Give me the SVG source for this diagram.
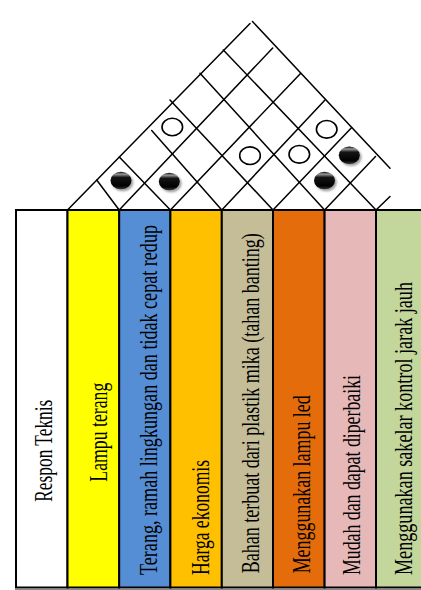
<svg xmlns="http://www.w3.org/2000/svg" width="421" height="590" viewBox="0 0 421 590">
<style>
.col{stroke:#000;stroke-width:2}
.lbl{font-family:"Liberation Serif","Times New Roman",serif;font-size:24.5px;fill:#000}
.rl{stroke:#000;stroke-width:1.5;fill:none;stroke-linecap:round}
.hol{fill:#fff;stroke:#000;stroke-width:1.6}
.blk{fill:url(#gloss)}
.shd{fill:#777;opacity:0.7;filter:url(#blur)}
</style>
<defs>
<linearGradient id="gloss" x1="0" y1="0" x2="0" y2="1">
<stop offset="0" stop-color="#000"/>
<stop offset="0.14" stop-color="#9a9a9a"/>
<stop offset="0.32" stop-color="#151515"/>
<stop offset="0.8" stop-color="#000"/>
<stop offset="1" stop-color="#3a3a3a"/>
</linearGradient>
<filter id="blur" x="-50%" y="-50%" width="200%" height="200%"><feGaussianBlur stdDeviation="1.2"/></filter>
</defs>
<rect width="421" height="590" fill="#fff"/>

<g id="columns">
<g id="col-respon"><rect class="col" x="16" y="210" width="51.5" height="377.5" fill="#fff"/><text class="lbl" transform="translate(52,501.7) rotate(-90)" textLength="102" lengthAdjust="spacingAndGlyphs">Respon Teknis</text></g>
<g id="col-lampu"><rect class="col" x="67.5" y="210" width="51.7" height="377.5" fill="#ffff00"/><text class="lbl" transform="translate(106.8,481.7) rotate(-90)" textLength="99" lengthAdjust="spacingAndGlyphs">Lampu terang</text></g>
<g id="col-terang"><rect class="col" x="119.2" y="210" width="51.2" height="377.5" fill="#558ed5"/><text class="lbl" transform="translate(157,575) rotate(-90)" textLength="350" lengthAdjust="spacingAndGlyphs">Terang, ramah lingkungan dan tidak cepat redup</text></g>
<g id="col-harga"><rect class="col" x="170.4" y="210" width="51.4" height="377.5" fill="#ffc000"/><text class="lbl" transform="translate(209.3,575) rotate(-90)" textLength="115" lengthAdjust="spacingAndGlyphs">Harga ekonomis</text></g>
<g id="col-bahan"><rect class="col" x="221.8" y="210" width="51.2" height="377.5" fill="#c4bd97"/><text class="lbl" transform="translate(258.6,573.3) rotate(-90)" textLength="340" lengthAdjust="spacingAndGlyphs">Bahan terbuat dari plastik mika (tahan banting)</text></g>
<g id="col-led"><rect class="col" x="273" y="210" width="51.6" height="377.5" fill="#e46c0a"/><text class="lbl" transform="translate(309.6,573.3) rotate(-90)" textLength="178" lengthAdjust="spacingAndGlyphs">Menggunakan lampu led</text></g>
<g id="col-mudah"><rect class="col" x="324.6" y="210" width="51.4" height="377.5" fill="#e6b9b8"/><text class="lbl" transform="translate(360.3,575) rotate(-90)" textLength="200" lengthAdjust="spacingAndGlyphs">Mudah dan dapat diperbaiki</text></g>
<g id="col-sakelar"><rect class="col" x="376" y="210" width="60" height="377.5" fill="#c3d69b"/><text class="lbl" transform="translate(412,575) rotate(-90)" textLength="293" lengthAdjust="spacingAndGlyphs">Menggunakan sakelar kontrol jarak jauh</text></g>
<line x1="15" y1="589.5" x2="421" y2="589.5" stroke="#8a8a8a" stroke-width="1"/>
</g>

<g id="roof">
<line class="rl" x1="67.5" y1="210" x2="250" y2="23.5"/>
<line class="rl" x1="252.5" y1="21.5" x2="390" y2="168.3"/>
<line class="rl" x1="119.2" y1="210" x2="272.7" y2="48"/>
<line class="rl" x1="170.4" y1="210" x2="300.5" y2="73.5"/>
<line class="rl" x1="221.8" y1="210" x2="325" y2="100"/>
<line class="rl" x1="273" y1="210" x2="351.7" y2="127.5"/>
<line class="rl" x1="324.6" y1="210" x2="375.5" y2="156.5"/>
<line class="rl" x1="376" y1="210" x2="390" y2="196.5"/>
<line class="rl" x1="119.2" y1="210" x2="96.7" y2="180"/>
<line class="rl" x1="170.4" y1="210" x2="119.3" y2="157"/>
<line class="rl" x1="221.8" y1="210" x2="151.7" y2="130.5"/>
<line class="rl" x1="273" y1="210" x2="170" y2="100"/>
<line class="rl" x1="324.6" y1="210" x2="200" y2="73.3"/>
<line class="rl" x1="376" y1="210" x2="223.3" y2="50"/>
</g>

<g id="correlations">
<g id="w1"><ellipse class="hol" cx="172.3" cy="127" rx="10.3" ry="8.8"/></g>
<g id="w2"><ellipse class="hol" cx="250" cy="155.7" rx="10.3" ry="8.8"/></g>
<g id="w3"><ellipse class="hol" cx="299.3" cy="154.3" rx="10.3" ry="8.8"/></g>
<g id="w4"><ellipse class="hol" cx="326.7" cy="129.3" rx="10.3" ry="8.8"/></g>
<g id="s1"><ellipse class="shd" cx="122.8" cy="182.5" rx="10.5" ry="8.8"/><ellipse class="blk" cx="121" cy="180.5" rx="10.5" ry="8.8"/></g>
<g id="s2"><ellipse class="shd" cx="171.1" cy="183.5" rx="10.5" ry="8.8"/><ellipse class="blk" cx="169.3" cy="181.5" rx="10.5" ry="8.8"/></g>
<g id="s3"><ellipse class="shd" cx="326.3" cy="182.5" rx="10.5" ry="8.8"/><ellipse class="blk" cx="324.5" cy="180.5" rx="10.5" ry="8.8"/></g>
<g id="s4"><ellipse class="shd" cx="351.1" cy="157.3" rx="10.5" ry="8.8"/><ellipse class="blk" cx="349.3" cy="155.3" rx="10.5" ry="8.8"/></g>
</g>
</svg>
